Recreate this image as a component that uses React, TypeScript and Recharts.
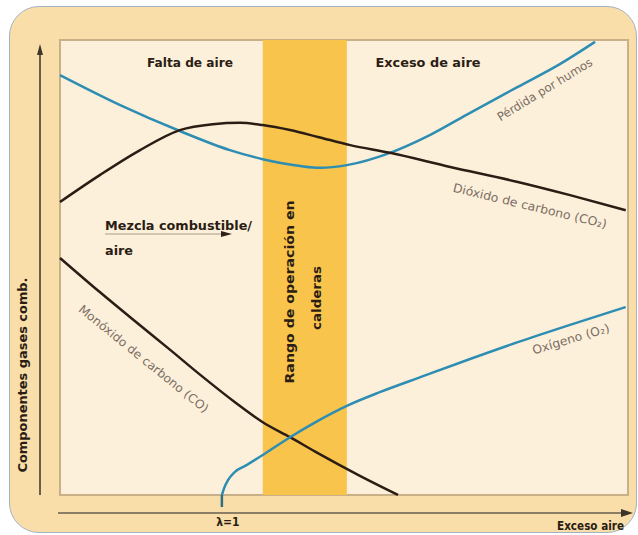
import React from "react";
import { ComposedChart, Line, XAxis, YAxis, ReferenceArea } from "recharts";

// x: 0..100 = exceso de aire (escala relativa), y: 0..100 = componentes gases
const perdidaX = [0, 10.6, 21.1, 29.9, 35.7, 42.3, 45.8, 50.5, 58.1, 65.1, 72.2, 80.6, 88.0, 94.2];
const perdidaY = [92.3, 85.7, 80.0, 75.8, 73.8, 72.3, 71.9, 72.5, 75.2, 79.1, 84.0, 89.7, 94.7, 99.6];

const co2X = [0, 7.0, 14.1, 21.1, 26.9, 31.7, 35.7, 40.5, 45.4, 51.1, 58.1, 68.7, 80.6, 89.8, 99.6];
const co2Y = [64.4, 70.3, 75.8, 80.2, 81.5, 81.8, 81.3, 80.2, 78.7, 76.9, 75.2, 72.1, 68.8, 65.9, 62.6];

const coX = [0, 7.0, 12.9, 19.4, 24.7, 30.8, 35.7, 40.5, 45.4, 52.8, 59.5];
const coY = [52.1, 44.6, 38.5, 31.9, 26.4, 20.4, 16.0, 12.7, 9.2, 4.2, 0];

const o2X = [28.5, 28.9, 29.6, 30.8, 32.6, 35.7, 40.5, 45.4, 50.5, 56.3, 63.0, 72.2, 80.6, 89.8, 99.6];
const o2Y = [0, 1.5, 3.3, 5.1, 6.4, 8.8, 12.7, 16.3, 19.6, 22.6, 25.7, 29.9, 33.6, 37.4, 41.3];

const rangoOperacion = [35.7, 50.5];
const lambdaUno = 28.5;

const toPoints = (xs: number[], ys: number[]) => xs.map((x, i) => ({ x, y: ys[i] }));

const BLUE = "#2e8db3";
const DARK = "#2b1d14";
const FONT = "'Liberation Sans Narrow', 'DejaVu Sans Condensed', 'Roboto', sans-serif";

const LambdaTick = (props: any) => {
  const { x, y } = props;
  return (
    <text x={x + 6} y={y + 17} textAnchor="middle" fontFamily={FONT} fontWeight={700} fontSize={12} fill={DARK}>
      λ=1
    </text>
  );
};

export default function App() {
  const bold = { fontFamily: FONT, fontWeight: 700, fontSize: 12, fill: DARK } as const;
  const note = { fontFamily: FONT, fontSize: 12, fill: "#7a6e64" } as const;

  return (
    <div style={{ position: "relative", width: 638, height: 535 }}>
      <style>{"body{margin:0}"}</style>
      <div
        style={{
          position: "absolute",
          left: 9,
          top: 6,
          width: 626,
          height: 525,
          border: "1px solid #a3b2c2",
          borderRadius: 30,
          background: "#f9dea9",
        }}
      />
      <div style={{ position: "absolute", left: 0, top: 0 }}>
        <ComposedChart width={638} height={535} margin={{ top: 40, right: 10, bottom: 10, left: 60 }}>
          <XAxis
            type="number"
            dataKey="x"
            domain={[0, 100]}
            ticks={[lambdaUno]}
            height={30}
            axisLine={false}
            tickSize={12}
            tickLine={{ stroke: "#2f6f80", strokeWidth: 2.5 }}
            tick={<LambdaTick />}
          />
          <YAxis type="number" domain={[0, 100]} hide />
          <ReferenceArea x1={0} x2={100} y1={0} y2={100} fill="#fdf0da" fillOpacity={1} stroke="#c9b089" strokeWidth={2} />
          <ReferenceArea x1={rangoOperacion[0]} x2={rangoOperacion[1]} y1={0} y2={100} fill="#f8c44c" fillOpacity={1} />
          <Line data={toPoints(perdidaX, perdidaY)} dataKey="y" type="monotone" stroke={BLUE} strokeWidth={2.5} dot={false} isAnimationActive={false} />
          <Line data={toPoints(co2X, co2Y)} dataKey="y" type="monotone" stroke={DARK} strokeWidth={2.5} dot={false} isAnimationActive={false} />
          <Line data={toPoints(coX, coY)} dataKey="y" type="monotone" stroke={DARK} strokeWidth={2.5} dot={false} isAnimationActive={false} />
          <Line data={toPoints(o2X, o2Y)} dataKey="y" type="monotone" stroke={BLUE} strokeWidth={2.5} dot={false} isAnimationActive={false} />
        </ComposedChart>
      </div>
      <svg width={638} height={535} style={{ position: "absolute", left: 0, top: 0, pointerEvents: "none" }}>
        {/* ejes con flecha */}
        <line x1={40} y1={495} x2={40} y2={52} stroke="#3d352b" strokeWidth={1.5} />
        <polygon points="40,44 37,55 43,55" fill="#3d352b" />
        <line x1={58} y1={513} x2={624} y2={513} stroke="#8c7d66" strokeWidth={2} />
        <polygon points="633,513 621,509 621,517" fill="#3d352b" />

        <text x={190} y={67} textAnchor="middle" textLength={86} lengthAdjust="spacingAndGlyphs" {...bold}>Falta de aire</text>
        <text x={428} y={67} textAnchor="middle" textLength={105} lengthAdjust="spacingAndGlyphs" {...bold}>Exceso de aire</text>

        <text x={105} y={230} textLength={147} lengthAdjust="spacingAndGlyphs" {...bold}>Mezcla combustible/</text>
        <line x1={105} y1={234} x2={222} y2={234} stroke="#a89a88" strokeWidth={1} />
        <polygon points="232,234 221,231 221,237" fill="#2b2118" />
        <text x={105} y={255} textLength={28} lengthAdjust="spacingAndGlyphs" {...bold}>aire</text>

        <text transform="translate(294,292) rotate(-90)" textAnchor="middle" textLength={183} lengthAdjust="spacingAndGlyphs" {...bold}>Rango de operación en</text>
        <text transform="translate(321,298) rotate(-90)" textAnchor="middle" textLength={64} lengthAdjust="spacingAndGlyphs" {...bold}>calderas</text>

        <text transform="translate(27,375) rotate(-90)" textAnchor="middle" textLength={195} lengthAdjust="spacingAndGlyphs" {...bold}>Componentes gases comb.</text>
        <text x={624} y={530} textAnchor="end" textLength={67} lengthAdjust="spacingAndGlyphs" {...bold}>Exceso aire</text>

        <text transform="translate(547,93) rotate(-31.5)" textAnchor="middle" textLength={109} lengthAdjust="spacingAndGlyphs" {...note}>Pérdida por humos</text>
        <text transform="translate(529,210) rotate(13.5)" textAnchor="middle" textLength={158} lengthAdjust="spacingAndGlyphs" {...note}>Dióxido de carbono (CO₂)</text>
        <text transform="translate(141,362) rotate(39)" textAnchor="middle" textLength={163} lengthAdjust="spacingAndGlyphs" {...note}>Monóxido de carbono (CO)</text>
        <text transform="translate(572,343) rotate(-16.6)" textAnchor="middle" textLength={80} lengthAdjust="spacingAndGlyphs" {...note}>Oxígeno (O₂)</text>
      </svg>
    </div>
  );
}
